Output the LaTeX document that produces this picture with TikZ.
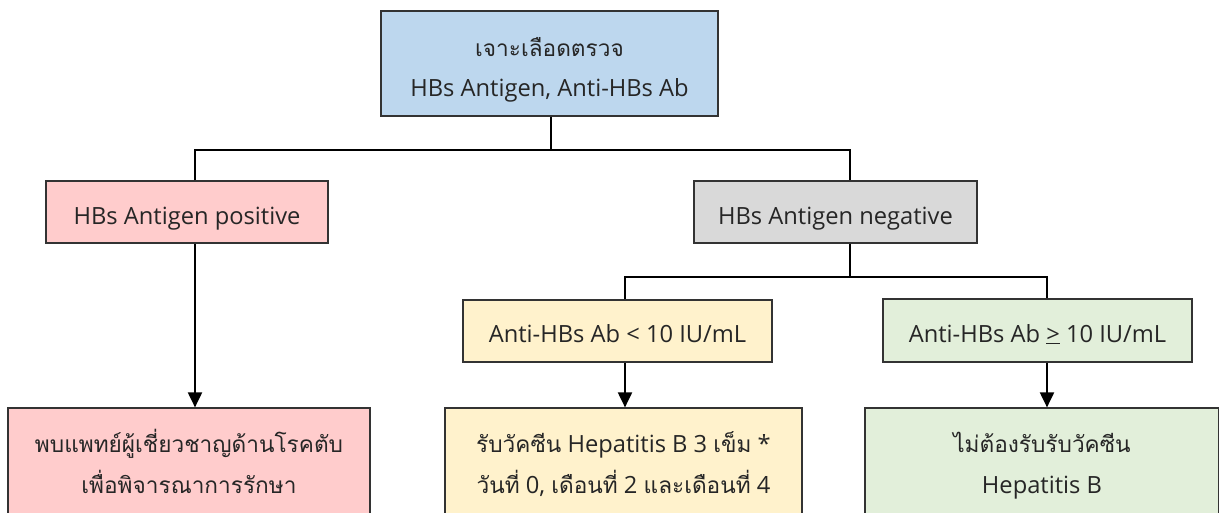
\documentclass[tikz,border=0pt]{standalone}
\usepackage{fontspec}
\setmainfont{Open Sans}
\newfontfamily\thaifont[Script=Thai,Scale=0.955]{Loma}
\newcommand{\thx}[1]{{\thaifont #1}}
\usetikzlibrary{arrows.meta}
\definecolor{cblue}{HTML}{BDD7EE}
\definecolor{cpink}{HTML}{FFCCCC}
\definecolor{cgray}{HTML}{D9D9D9}
\definecolor{cyel}{HTML}{FFF2CC}
\definecolor{cgreen}{HTML}{E2EFDA}
\definecolor{ctext}{HTML}{262626}
\begin{document}
\begin{tikzpicture}[x=1pt,y=-1pt,
  box/.style={draw=black!80, line width=1.2pt, inner sep=0pt, align=center, text=ctext, font=\fontsize{23.7}{40.5}\selectfont},
  conn/.style={line width=1.8pt, black},
  arr/.style={line width=2pt, black, -{Triangle[width=14pt,length=15pt]}}]
\clip (0,0) rectangle (1219,513);
\fill[white] (0,0) rectangle (1219,513);
\node[box, fill=cblue, minimum width=337pt, minimum height=105pt, text height=67pt, text depth=0pt, font=\fontsize{23.7}{40}\selectfont] (top) at (549.5,63.5) {\thx{เจาะเลือดตรวจ}\\HBs Antigen, Anti-HBs Ab};
\node[box, fill=cpink, minimum width=282pt, minimum height=62pt, text height=30pt, text depth=4pt] (pos) at (187,212) {HBs Antigen positive};
\node[box, fill=cgray, minimum width=283pt, minimum height=62pt, text height=30pt, text depth=4pt] (neg) at (835.5,212) {HBs Antigen negative};
\node[box, fill=cyel, minimum width=309pt, minimum height=62pt, text height=26pt, text depth=4pt] (low) at (617.5,331) {Anti-HBs Ab < 10 IU/mL};
\node[box, fill=cgreen, minimum width=309pt, minimum height=63pt, text height=27pt, text depth=4pt] (high) at (1037.5,330.5) {Anti-HBs Ab \underline{>} 10 IU/mL};
\node[box, fill=cpink, minimum width=362pt, minimum height=110pt, text height=60pt, text depth=0pt] (posb) at (189,463) {\thx{พบแพทย์ผู้เชี่ยวชาญด้านโรคตับ}\\\thx{เพื่อพิจารณาการรักษา}};
\node[box, fill=cyel, minimum width=357pt, minimum height=110pt, text height=60pt, text depth=0pt] (lowb) at (623.5,463) {\thx{รับวัคซีน} Hepatitis B 3 \thx{เข็ม} *\\\thx{วันที่} 0, \thx{เดือนที่} 2 \thx{และเดือนที่} 4};
\node[box, fill=cgreen, minimum width=354pt, minimum height=110pt, text height=60pt, text depth=0pt] (highb) at (1042,463) {\thx{ไม่ต้องรับรับวัคซีน}\\Hepatitis B};
\coordinate (j1) at (551,150);
\coordinate (xl) at (195,150);
\coordinate (xr) at (850,150);
\coordinate (j2) at (850,277);
\coordinate (xl2) at (625,277);
\coordinate (xr2) at (1047,277);
\draw[conn] (top.south -| j1) -- (j1);
\draw[conn] (pos.north -| xl) |- (j1) -| (neg.north -| xr);
\draw[conn] (neg.south -| j2) -- (j2);
\draw[conn] (low.north -| xl2) |- (j2) -| (high.north -| xr2);
\draw[arr] (pos.south -| xl) -- (posb.north -| xl);
\draw[arr] (low.south -| xl2) -- (lowb.north -| xl2);
\draw[arr] (high.south -| xr2) -- (highb.north -| xr2);
\end{tikzpicture}
\end{document}
